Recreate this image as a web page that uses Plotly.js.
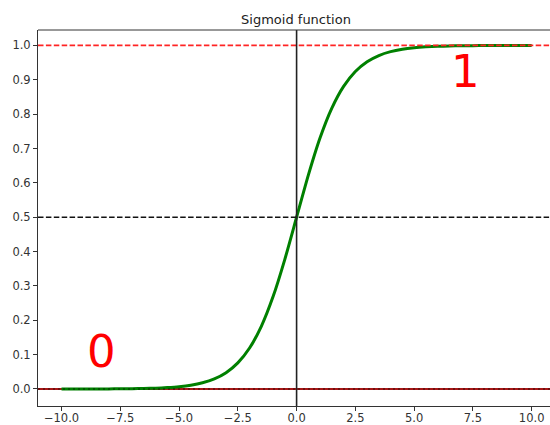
<!DOCTYPE html>
<html>
<head>
<meta charset="utf-8">
<script src="https://cdn.plot.ly/plotly-3.0.1.min.js"></script>
<style>
  html, body { margin: 0; padding: 0; background: #fff; overflow: hidden; }
  #chart { width: 550px; height: 425px; }
</style>
</head>
<body>
<div id="chart"></div>
<script>
// Sampled points of the logistic curve, x in steps of 0.5
const xValues = [
  -10, -9.5, -9, -8.5, -8, -7.5, -7, -6.5, -6, -5.5, -5, -4.5, -4, -3.5, -3, -2.5, -2, -1.5, -1, -0.5,
  0, 0.5, 1, 1.5, 2, 2.5, 3, 3.5, 4, 4.5, 5, 5.5, 6, 6.5, 7, 7.5, 8, 8.5, 9, 9.5, 10
];
const sigmoidValues = [
  0.0000, 0.0001, 0.0001, 0.0002, 0.0003, 0.0006, 0.0009, 0.0015, 0.0025, 0.0041,
  0.0067, 0.0110, 0.0180, 0.0293, 0.0474, 0.0759, 0.1192, 0.1824, 0.2689, 0.3775,
  0.5000, 0.6225, 0.7311, 0.8176, 0.8808, 0.9241, 0.9526, 0.9707, 0.9820, 0.9890,
  0.9933, 0.9959, 0.9975, 0.9985, 0.9991, 0.9994, 0.9997, 0.9998, 0.9999, 0.9999, 1.0000
];

// Reference levels and labels
const lowerLevel = 0;
const midLevel = 0.5;
const upperLevel = 1;
const centerX = 0;
const labelTexts = ['0', '1'];
const labelX = [-8.3, 7.2];
const labelY = [0.109, 0.923];

const xTickVals = [-10, -7.5, -5, -2.5, 0, 2.5, 5, 7.5, 10];
const yTickVals = [0, 0.1, 0.2, 0.3, 0.4, 0.5, 0.6, 0.7, 0.8, 0.9, 1.0];

const font = 'DejaVu Sans, sans-serif';
const dashPattern = '5.5px,2.4px';

const curve = {
  x: xValues,
  y: sigmoidValues,
  type: 'scatter',
  mode: 'lines',
  line: { color: '#008000', width: 3, shape: 'spline', smoothing: 0.6 },
  hoverinfo: 'skip',
  showlegend: false
};

function hLine(y, color, dash, layer, width) {
  return {
    type: 'line', xref: 'paper', yref: 'y', x0: 0, x1: 1, y0: y, y1: y,
    line: { color: color, width: width, dash: dash }, layer: layer
  };
}

const shapes = [
  hLine(lowerLevel, '#a81818', 'solid', 'below', 2.2),
  hLine(lowerLevel, 'rgba(0,0,0,0.45)', '2px,3px', 'above', 1.4),
  hLine(midLevel, '#111111', dashPattern, 'above', 1.7),
  hLine(upperLevel, '#ff2424', dashPattern, 'above', 1.8),
  {
    type: 'line', xref: 'x', yref: 'paper', x0: centerX, x1: centerX, y0: 0, y1: 1,
    line: { color: '#222222', width: 1.6 }, layer: 'above'
  }
];

const annotations = labelTexts.map((t, i) => ({
  x: labelX[i], y: labelY[i], xref: 'x', yref: 'y',
  text: t, showarrow: false,
  xanchor: 'center', yanchor: 'middle',
  font: { family: font, size: 45, color: '#ff0000' }
}));

const axisCommon = {
  showgrid: false,
  zeroline: false,
  showline: true,
  linecolor: '#333333',
  linewidth: 1,
  ticks: 'outside',
  ticklen: 4,
  tickwidth: 1,
  tickcolor: '#333333',
  tickformat: '.1f',
  tickfont: { family: font, size: 11.5, color: '#333333' }
};

const layout = {
  width: 550,
  height: 425,
  margin: { l: 38, r: 0, t: 30, b: 19, pad: 0 },
  paper_bgcolor: '#ffffff',
  plot_bgcolor: '#ffffff',
  title: {
    text: 'Sigmoid function',
    font: { family: font, size: 13, color: '#222222' },
    x: 296 / 550, xanchor: 'center',
    y: 1 - 24 / 425, yanchor: 'bottom', yref: 'container'
  },
  xaxis: Object.assign({}, axisCommon, {
    range: [-11.0, 10.78],
    tickmode: 'array',
    tickvals: xTickVals,
    ticklabelstandoff: -3,
    mirror: false
  }),
  yaxis: Object.assign({}, axisCommon, {
    range: [-0.0495, 1.045],
    tickmode: 'array',
    tickvals: yTickVals,
    mirror: false
  }),
  shapes: shapes,
  annotations: annotations,
  showlegend: false
};

// top spine across the plot
layout.shapes.push({
  type: 'line', xref: 'paper', yref: 'paper', x0: 0, x1: 1, y0: 1, y1: 1,
  line: { color: '#333333', width: 1 }, layer: 'above'
});

Plotly.newPlot('chart', [curve], layout, { displayModeBar: false, staticPlot: true });
</script>
</body>
</html>
